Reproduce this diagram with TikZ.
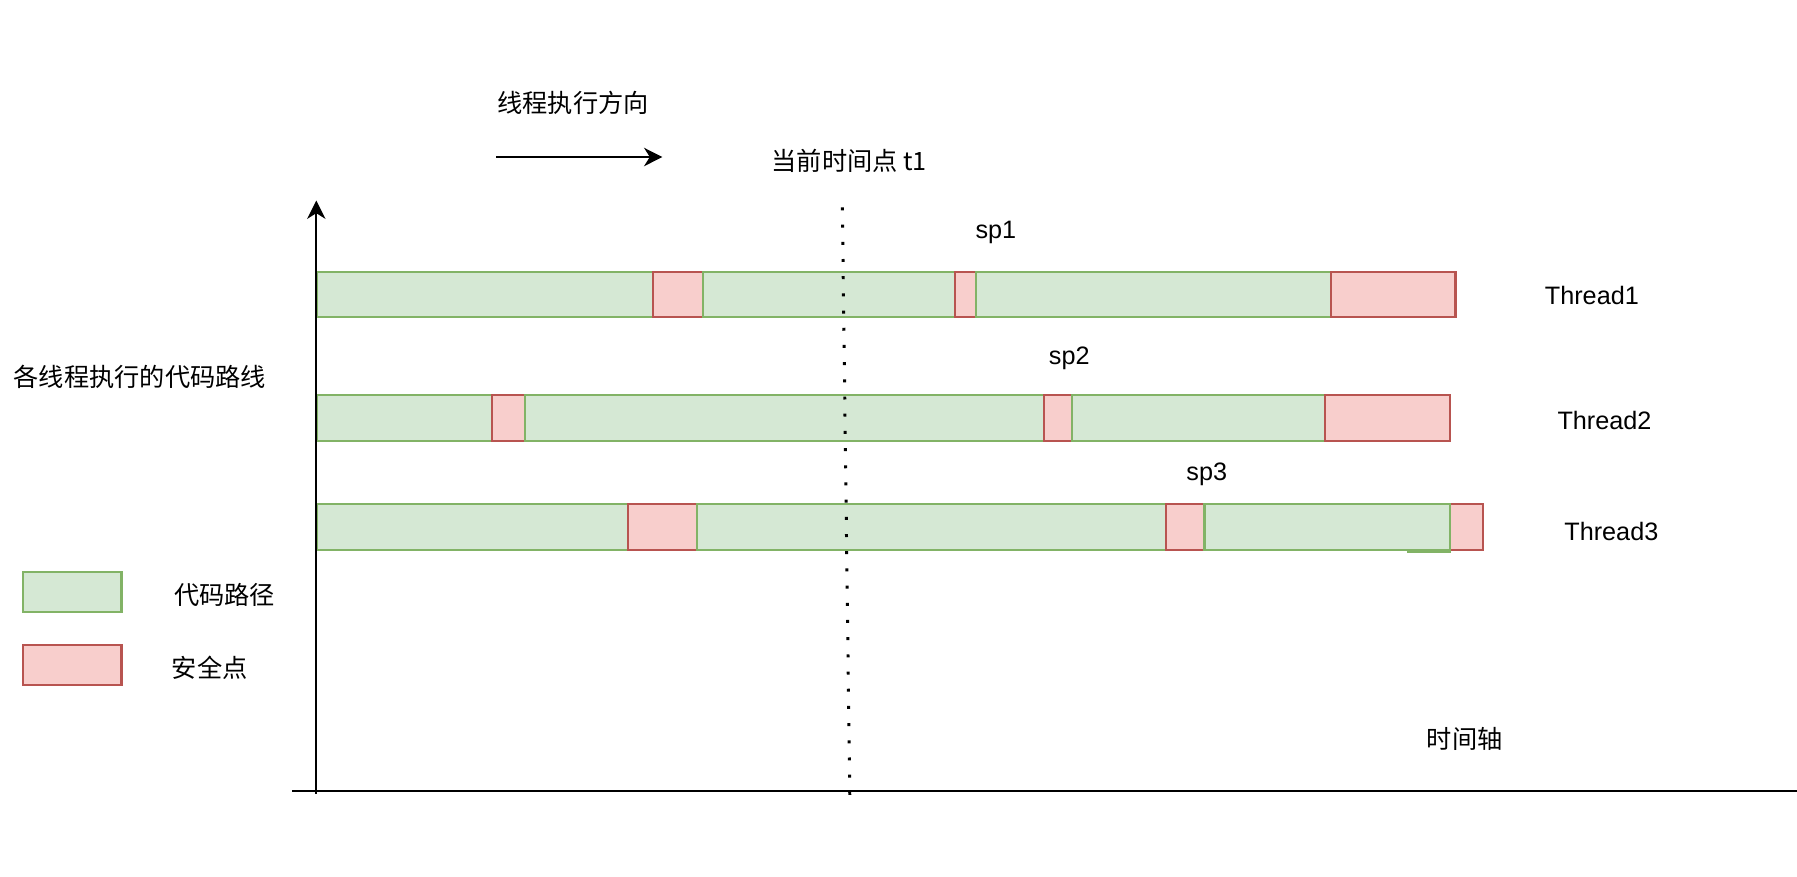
\documentclass[tikz,border=0pt]{standalone}
\usepackage{fontspec}
\setmainfont{Liberation Sans}
\newfontfamily\cjk{Noto Sans CJK SC}
\usetikzlibrary{arrows.meta}
\definecolor{cfill}{HTML}{D5E8D4}
\definecolor{cline}{HTML}{82B366}
\definecolor{sfill}{HTML}{F8CECC}
\definecolor{sline}{HTML}{B85450}
\begin{document}
\begin{tikzpicture}[x=0.5pt,y=-0.5pt,
  code/.style={fill=cfill,draw=cline,line width=0.9pt},
  safe/.style={fill=sfill,draw=sline,line width=0.9pt},
  lbl/.style={font=\fontsize{11}{13}\selectfont, inner sep=0pt},
  cn/.style={font=\fontsize{11}{13}\selectfont\cjk, inner sep=0pt},
  arr/.style={line width=0.9pt,-{Stealth[length=8pt,width=8pt,inset=2.5pt]}}]
\useasboundingbox[fill=white] (0,0) rectangle (1568,765);

% row 1
\draw[code] (277,237) rectangle (570,277);
\draw[safe] (570,237) rectangle (613,277);
\draw[code] (613,237) rectangle (833,277);
\draw[safe] (833,237) rectangle (852,277);
\draw[code] (852,237) rectangle (1161,277);
\draw[safe] (1161,237) rectangle (1270,277);
% row 2
\draw[code] (277,345) rectangle (429,385);
\draw[safe] (429,345) rectangle (458,385);
\draw[code] (458,345) rectangle (911,385);
\draw[safe] (911,345) rectangle (935,385);
\draw[code] (935,345) rectangle (1156,385);
\draw[safe] (1156,345) rectangle (1265,385);
% row 3
\draw[code] (277,440) rectangle (548,480);
\draw[safe] (548,440) rectangle (608,480);
\draw[code] (608,440) rectangle (1017,480);
\draw[safe] (1017,440) rectangle (1051,480);
\draw[safe] (1265,440) rectangle (1294,480);
\draw[code] (1229,441.5) rectangle (1265,481.5);
\draw[code] (1051,440) rectangle (1265,480);

% axes
\coordinate (ybot) at (276,693);
\coordinate (ytop) at (276,175);
\coordinate (xl) at (255,690);
\coordinate (xr) at (1568,690);
\draw[arr,line width=0.8pt] (ybot) -- (ytop);
\draw[line width=1.1pt] (xl) -- (xr);

% current time dotted line
\coordinate (t1a) at (735,181);
\coordinate (t1b) at (741.5,696);
\draw[line width=1.3pt,dash pattern=on 1.3pt off 6.2pt] (t1a) -- (t1b);

% direction arrow
\coordinate (da) at (433,137);
\coordinate (db) at (578,137);
\draw[arr] (da) -- (db);

% labels
\node[cn] (dir) at (500,90) {线程执行方向};
\node[cn] (now) at (741,140) {当前时间点 t1};
\node[lbl] (sp1) at (869,203) {sp1};
\node[lbl] (sp2) at (933,313) {sp2};
\node[lbl] (sp3) at (1053,414) {sp3};
\node[lbl] (th1) at (1389,258) {Thread1};
\node[lbl] (th2) at (1400,367) {Thread2};
\node[lbl] (th3) at (1406,464) {Thread3};
\node[cn] (paths) at (122,329) {各线程执行的代码路线};
\node[cn] (axis) at (1278,645) {时间轴};

% legend
\draw[code] (20,499) rectangle (106,534);
\draw[safe] (20,563) rectangle (106,598);
\node[cn] (lg1) at (196,519) {代码路径};
\node[cn] (lg2) at (183,583) {安全点};
\end{tikzpicture}
\end{document}
